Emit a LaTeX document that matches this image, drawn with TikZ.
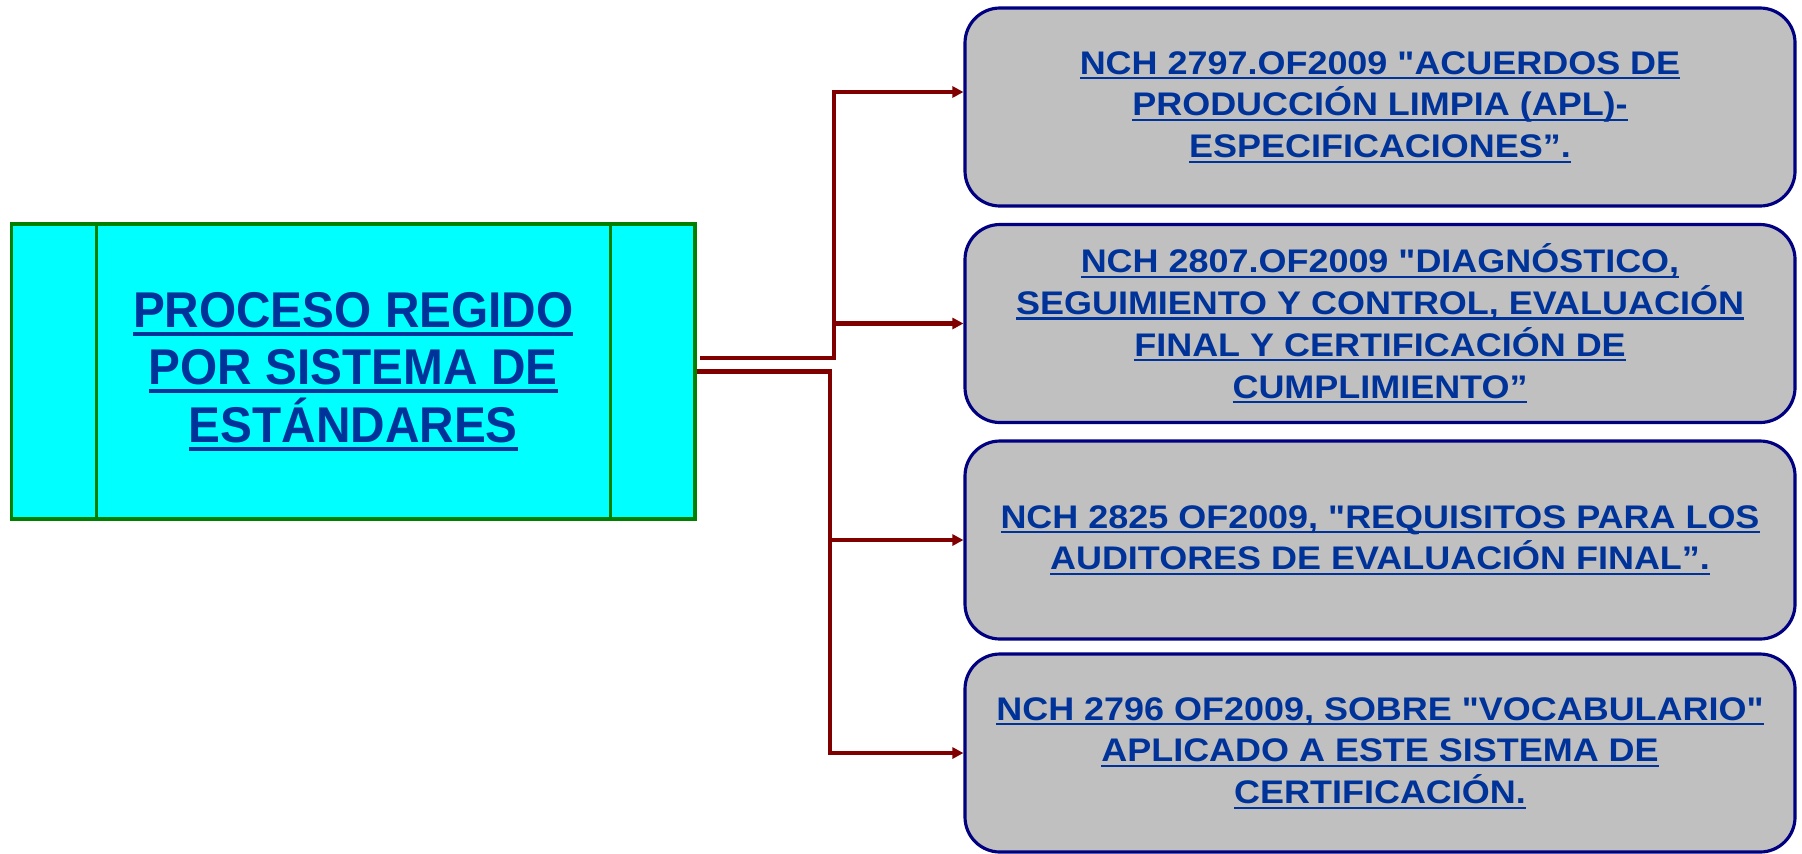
\documentclass[tikz,border=0pt]{standalone}
\usepackage{fontspec}
\setmainfont{Liberation Sans}
\newfontfamily\titlefont[FakeStretch=0.95]{Liberation Sans}
\newfontfamily\normfont[FakeStretch=1.1]{Liberation Sans}
\usetikzlibrary{arrows.meta}
\definecolor{txtblue}{RGB}{0,51,153}
\definecolor{mainfill}{RGB}{0,255,255}
\definecolor{boxgray}{RGB}{192,192,192}
\definecolor{boxnavy}{RGB}{0,0,128}
\definecolor{linkred}{RGB}{128,0,0}
\definecolor{mainborder}{RGB}{0,128,0}
\newcommand{\lineul}[3]{\setbox0=\hbox{#3}\leavevmode\rlap{\rule[#1]{\wd0}{#2}}\box0}
\tikzset{
  mainbox/.style={draw=mainborder, line width=0.9pt, fill=mainfill,
    minimum width=6.835cm, minimum height=2.95cm, align=center,
    text=txtblue, font=\titlefont\bfseries\fontsize{14.3}{16.4}\selectfont},
  normbox/.style={draw=boxnavy, line width=0.9pt, fill=boxgray,
    rounded corners=0.35cm, minimum width=8.3cm, minimum height=1.98cm,
    align=center, text=txtblue,
    font=\normfont\bfseries\fontsize{9.3}{11.9}\selectfont}
}
\begin{document}
\begin{tikzpicture}
      \useasboundingbox (0,0) rectangle (18.02,8.53);
      \draw
        (3.5325,4.815) node[mainbox] (0){\lineul{-2.4pt}{1.1pt}{PROCESO REGIDO}\\
          \lineul{-2.4pt}{1.1pt}{POR SISTEMA DE}\\
          \lineul{-2.4pt}{1.1pt}{ESTÁNDARES}}
        (13.8,7.46) node[normbox] (1){\lineul{-1.4pt}{0.6pt}{NCH 2797.OF2009 "ACUERDOS DE}\\
          \lineul{-1.4pt}{0.6pt}{PRODUCCIÓN LIMPIA (APL)-}\\
          \lineul{-1.4pt}{0.6pt}{ESPECIFICACIONES”.}}
        (13.8,5.295) node[normbox] (2){\lineul{-1.4pt}{0.6pt}{NCH 2807.OF2009 "DIAGNÓSTICO,}\\
          \lineul{-1.4pt}{0.6pt}{SEGUIMIENTO Y CONTROL, EVALUACIÓN}\\
          \lineul{-1.4pt}{0.6pt}{FINAL Y CERTIFICACIÓN DE}\\
          \lineul{-1.4pt}{0.6pt}{CUMPLIMIENTO”}}
        (13.8,3.13) node[normbox] (3){\lineul{-1.4pt}{0.6pt}{NCH 2825 OF2009, "REQUISITOS PARA LOS}\\
          \lineul{-1.4pt}{0.6pt}{AUDITORES DE EVALUACIÓN FINAL”.}}
        (13.8,1.0) node[normbox] (4){\lineul{-1.4pt}{0.6pt}{NCH 2796 OF2009, SOBRE "VOCABULARIO"}\\
          \lineul{-1.4pt}{0.6pt}{APLICADO A ESTE SISTEMA DE}\\
          \lineul{-1.4pt}{0.6pt}{CERTIFICACIÓN.}};
      \draw[mainborder, line width=0.9pt]
        ([xshift=0.865cm]0.north west) -- ([xshift=0.865cm]0.south west)
        ([xshift=-0.86cm]0.north east) -- ([xshift=-0.86cm]0.south east);
      \coordinate (s1) at (7.0,4.95);
      \coordinate (j1) at (8.34,4.95);
      \coordinate (j2) at (8.30,4.815);
      \begin{scope}[linkred, line width=1.35pt, -{Triangle[length=0.11cm,width=0.11cm]}]
        \draw (s1) -- (j1) |- ([yshift=0.15cm]1.west);
        \draw (s1) -- (j1) |- (2.west);
        \draw (0.east) -- (j2) |- (3.west);
        \draw (0.east) -- (j2) |- (4.west);
      \end{scope}
    \end{tikzpicture}
\end{document}
